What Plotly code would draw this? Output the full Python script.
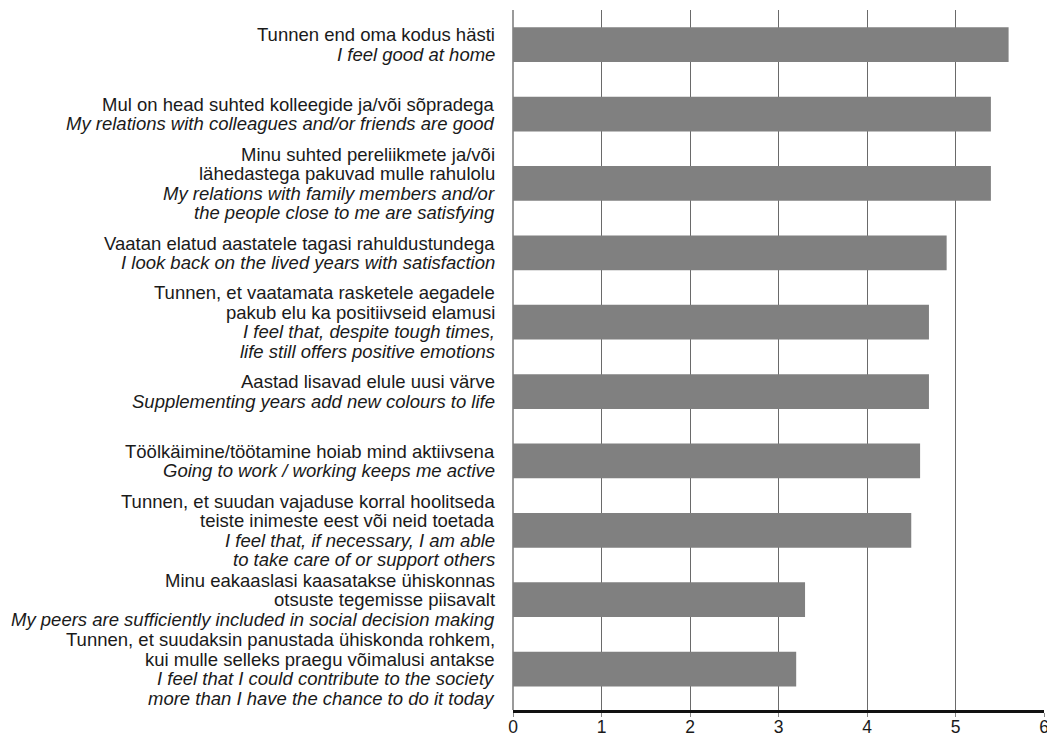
import plotly.graph_objects as go

# Statements (Estonian with English translation), top to bottom
labels_et = [
    "Tunnen end oma kodus hästi",
    "Mul on head suhted kolleegide ja/või sõpradega",
    "Minu suhted pereliikmete ja/või|lähedastega pakuvad mulle rahulolu",
    "Vaatan elatud aastatele tagasi rahuldustundega",
    "Tunnen, et vaatamata rasketele aegadele|pakub elu ka positiivseid elamusi",
    "Aastad lisavad elule uusi värve",
    "Töölkäimine/töötamine hoiab mind aktiivsena",
    "Tunnen, et suudan vajaduse korral hoolitseda|teiste inimeste eest või neid toetada",
    "Minu eakaaslasi kaasatakse ühiskonnas|otsuste tegemisse piisavalt",
    "Tunnen, et suudaksin panustada ühiskonda rohkem,|kui mulle selleks praegu võimalusi antakse",
]
labels_en = [
    "I feel good at home",
    "My relations with colleagues and/or friends are good",
    "My relations with family members and/or|the people close to me are satisfying",
    "I look back on the lived years with satisfaction",
    "I feel that, despite tough times,|life still offers positive emotions",
    "Supplementing years add new colours to life",
    "Going to work / working keeps me active",
    "I feel that, if necessary, I am able|to take care of or support others",
    "My peers are sufficiently included in social decision making",
    "I feel that I could contribute to the society|more than I have the chance to do it today",
]
scores = [5.6, 5.4, 5.4, 4.9, 4.7, 4.7, 4.6, 4.5, 3.3, 3.2]
x_ticks = [0, 1, 2, 3, 4, 5, 6]

FONT = "Liberation Sans, Arial, sans-serif"
TEXT_COLOR = "#1a1a1a"
LABEL_SIZE = 18.5
LINE_STEP = 19.5  # px between label lines

fig = go.Figure(
    go.Bar(
        x=scores,
        y=list(range(len(scores))),
        orientation="h",
        marker=dict(color="#808080", line=dict(width=0)),
        hoverinfo="x",
    )
)

# Two-language category labels, one annotation per text line
annotations = []
for i, (et, en) in enumerate(zip(labels_et, labels_en)):
    lines = [(t, False) for t in et.split("|")] + [(t, True) for t in en.split("|")]
    n = len(lines)
    for j, (txt, italic) in enumerate(lines):
        annotations.append(
            dict(
                xref="paper", x=0, yref="y", y=i,
                xanchor="right", yanchor="middle",
                xshift=-17,
                yshift=((n - 1) / 2 - j) * LINE_STEP,
                text=f"<i>{txt}</i>" if italic else txt,
                showarrow=False,
                borderpad=0,
                font=dict(family=FONT, size=LABEL_SIZE, color=TEXT_COLOR),
                align="right",
            )
        )

fig.update_layout(
    width=1047,
    height=737,
    margin=dict(l=513, r=3, t=10, b=27, autoexpand=False),
    paper_bgcolor="white",
    plot_bgcolor="white",
    bargap=0.5,
    showlegend=False,
    annotations=annotations,
    font=dict(family=FONT, size=LABEL_SIZE, color=TEXT_COLOR),
    xaxis=dict(
        range=[0, 6],
        tickvals=x_ticks,
        ticktext=[str(v) for v in x_ticks],
        automargin=False,
        showgrid=True,
        gridcolor="#6a6a6a",
        gridwidth=1,
        zeroline=True,
        zerolinecolor="#9a9a9a",
        zerolinewidth=2,
        showline=True,
        linecolor="#111111",
        linewidth=3,
        ticks="outside",
        ticklen=4,
        tickcolor="#888888",
        tickfont=dict(family=FONT, size=17.5, color=TEXT_COLOR),
        ticklabeloverflow="allow",
        ticklabelstandoff=-5,
        fixedrange=True,
    ),
    yaxis=dict(
        range=[9.59, -0.5],
        automargin=False,
        showticklabels=False,
        showgrid=False,
        zeroline=False,
        showline=False,
        ticks="",
        fixedrange=True,
    ),
)

fig.write_html("out.html")
